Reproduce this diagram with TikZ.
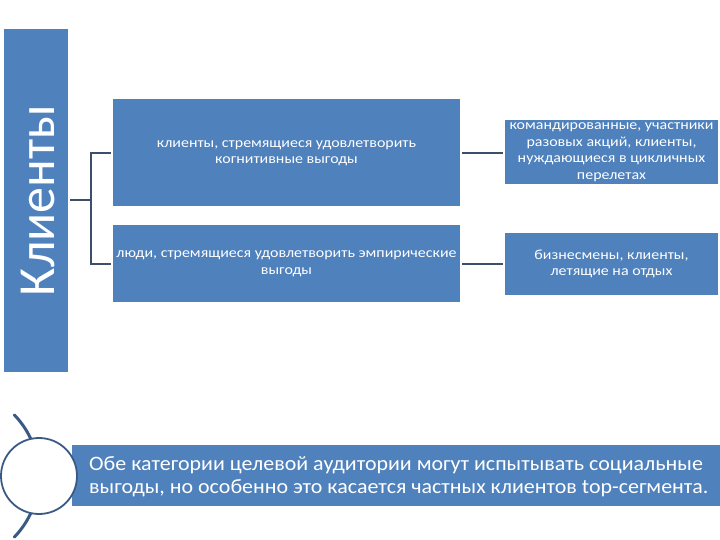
\documentclass[tikz,border=0pt]{standalone}
\usepackage{fontspec}
\setmainfont{Carlito}
\newfontfamily\widefont[FakeStretch=1.14]{Carlito}
\newfontfamily\notefont[FakeStretch=1.07]{Carlito}
\usetikzlibrary{calc}
\definecolor{boxblue}{HTML}{4F81BD}
\definecolor{lineblue}{HTML}{3B4F6B}
\definecolor{arcblue}{HTML}{3A5A85}
\tikzset{
  bluebox/.style={fill=boxblue, draw=none, text=white, align=center, inner sep=0pt},
  boxtext/.style={font=\widefont\fontsize{14}{16.5}\selectfont},
  conn/.style={draw=lineblue, line width=2pt},
}
\begin{document}
\begin{tikzpicture}[x=1pt,y=-1pt]
\useasboundingbox (0,0) rectangle (720,540);
% left title box
\node[bluebox, minimum width=64pt, minimum height=343pt] (L) at (36,200.5) {};
\node[text=white, rotate=90, font=\fontsize{52}{56}\selectfont] (Lt) at (38,200.5) {Клиенты};
% level boxes
\node[bluebox, boxtext, minimum width=347pt, minimum height=107pt] (A1) at (286.5,153) {клиенты, стремящиеся удовлетворить\\когнитивные выгоды};
\node[bluebox, boxtext, minimum width=347pt, minimum height=77pt] (A2) at (286.5,263.5) {люди, стремящиеся удовлетворить эмпирические\\выгоды};
\node[bluebox, boxtext, minimum width=213pt, minimum height=64pt] (B1) at (611.5,152) {командированные, участники\\разовых акций, клиенты,\\нуждающиеся в цикличных\\перелетах};
\node[bluebox, boxtext, minimum width=213pt, minimum height=62pt] (B2) at (611.5,264) {бизнесмены, клиенты,\\летящие на отдых};
% connectors
\coordinate (J) at ($(L.east)!0.5!(A1.west |- L.east)$);
\draw[conn, shorten <=2pt] (L.east) -- (J);
\draw[conn, shorten <=2pt] (A1.west) -| (J);
\draw[conn, shorten <=2pt] (A2.west) -| (J);
\draw[conn, shorten <=2pt, shorten >=2pt] (A1.east) -- (A1.east -| B1.west);
\draw[conn, shorten <=2pt, shorten >=2pt] (A2.east) -- (A2.east -| B2.west);
% bottom
\node[bluebox, minimum width=648pt, minimum height=61pt, anchor=north west] (N) at (72,445) {};
\node[text=white, align=left, anchor=west, inner sep=0pt, font=\notefont\fontsize{20.5}{23}\selectfont] (Nt) at (89,477) {Обе категории целевой аудитории могут испытывать социальные\\выгоды, но особенно это касается частных клиентов top-сегмента.};
\coordinate (AC) at (-49,476);
\draw[draw=arcblue, line width=3pt, line cap=round] (AC) ++(44:88) arc[start angle=44, end angle=-44, radius=88];
\node[circle, fill=white, draw=arcblue, line width=1.8pt, minimum size=76pt, inner sep=0pt] (C) at (39,476) {};
\end{tikzpicture}
\end{document}
